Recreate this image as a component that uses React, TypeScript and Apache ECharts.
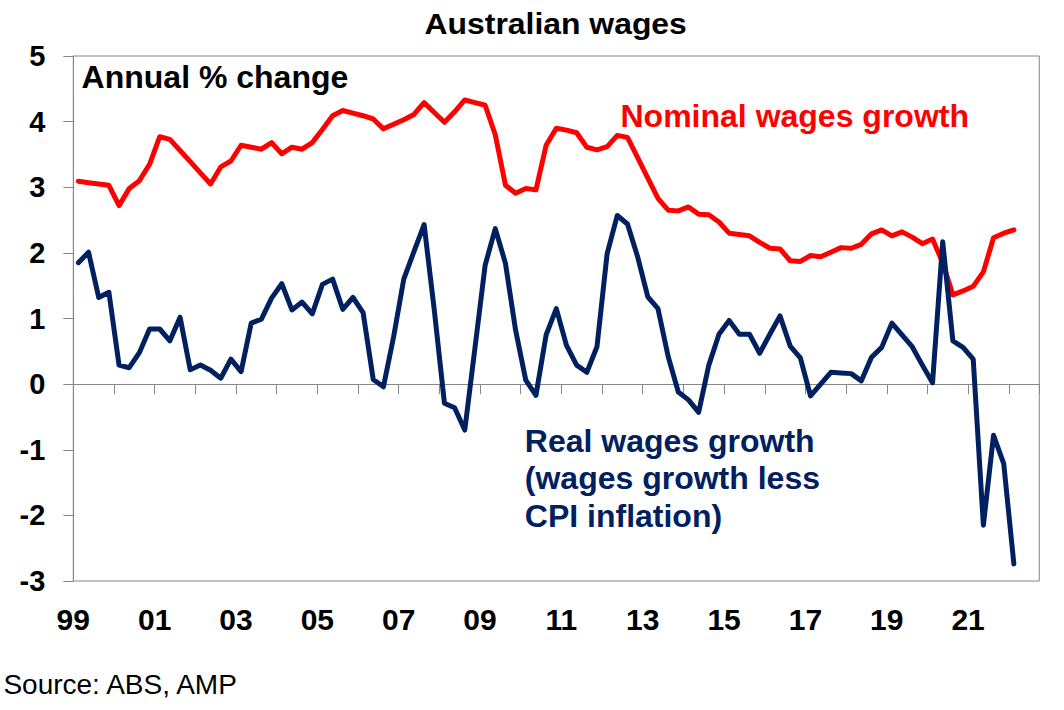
import React, { useEffect, useRef } from "react";
import * as echarts from "echarts";

// Quarterly data, Q1 1999 .. Q1 2022 (annual % change)
const startYear = 1999;
const nominalWages = [
  3.09, 3.07, 3.05, 3.03,
  2.72, 2.98, 3.10, 3.35,
  3.77, 3.73, 3.56, 3.39,
  3.22, 3.05, 3.31, 3.40,
  3.64, 3.61, 3.58, 3.68,
  3.51, 3.61, 3.58, 3.68,
  3.88, 4.09, 4.17, 4.13,
  4.09, 4.04, 3.89, 3.96,
  4.03, 4.11, 4.29, 4.14,
  3.99, 4.15, 4.33, 4.29,
  4.25, 3.80, 3.03, 2.91,
  2.98, 2.96, 3.64, 3.90,
  3.87, 3.83, 3.61, 3.57,
  3.62, 3.79, 3.76, 3.45,
  3.14, 2.83, 2.65, 2.64,
  2.70, 2.59, 2.58, 2.47,
  2.30, 2.28, 2.26, 2.16,
  2.07, 2.06, 1.88, 1.87,
  1.96, 1.94, 2.01, 2.08,
  2.07, 2.13, 2.29, 2.35,
  2.26, 2.32, 2.24, 2.14,
  2.21, 1.85, 1.36, 1.42,
  1.49, 1.71, 2.23, 2.30,
  2.35,
];
const realWages = [
  1.85, 2.01, 1.32, 1.40,
  0.29, 0.25, 0.48, 0.84,
  0.84, 0.66, 1.02, 0.22,
  0.29, 0.21, 0.09, 0.38,
  0.19, 0.93, 0.99, 1.31,
  1.53, 1.13, 1.25, 1.07,
  1.52, 1.60, 1.14, 1.32,
  1.09, 0.07, -0.04, 0.72,
  1.60, 2.02, 2.43, 1.13,
  -0.29, -0.36, -0.70, 0.55,
  1.81, 2.37, 1.84, 0.82,
  0.06, -0.17, 0.75, 1.15,
  0.59, 0.29, 0.18, 0.57,
  1.99, 2.57, 2.44, 1.94,
  1.33, 1.15, 0.42, -0.12,
  -0.24, -0.43, 0.29, 0.76,
  0.97, 0.76, 0.76, 0.47,
  0.76, 1.04, 0.58, 0.40,
  -0.18, 0.00, 0.18, 0.17,
  0.16, 0.05, 0.41, 0.56,
  0.93, 0.75, 0.57, 0.29,
  0.02, 2.17, 0.66, 0.56,
  0.38, -2.15, -0.78, -1.21,
  -2.74,
];
const yTicks = { min: -3, max: 5, interval: 1 };
const xRange = { min: 1999, max: 2022.75 };

const FONT = "Arial, 'Liberation Sans', Helvetica, sans-serif";
const RED = "#FF0000";
const NAVY = "#002060";
const AXIS_GREY = "#868686";

const toPoints = (vals: number[]) =>
  vals.map((v, i) => [startYear + i / 4 + 0.125, v]);

export default function App() {
  const ref = useRef<HTMLDivElement>(null);
  useEffect(() => {
    if (!ref.current) return;
    const chart = echarts.init(ref.current, undefined, { renderer: "svg" });
    const xLabel = (v: number) => {
      const r = Math.round(v);
      if (Math.abs(v - r) > 1e-6) return "";
      if ((r - startYear) % 2 !== 0) return "";
      return String(r % 100).padStart(2, "0");
    };
    chart.setOption({
      animation: false,
      backgroundColor: "#ffffff",
      grid: {
        left: 73.3,
        right: 24.7,
        top: 56,
        bottom: 129,
        show: true,
        borderColor: AXIS_GREY,
        borderWidth: 1,
        containLabel: false,
      },
      xAxis: [
        {
          type: "value",
          min: xRange.min,
          max: xRange.max,
          interval: 1,
          position: "bottom",
          axisLine: { show: true, onZero: true, lineStyle: { color: AXIS_GREY, width: 1 } },
          axisTick: { show: true, inside: false, length: 10, lineStyle: { color: AXIS_GREY, width: 1 } },
          axisLabel: { show: false },
          splitLine: { show: false },
        },
        {
          type: "value",
          min: xRange.min,
          max: xRange.max,
          interval: 1,
          position: "bottom",
          axisLine: { show: false, onZero: false },
          axisTick: { show: false },
          splitLine: { show: false },
          axisLabel: {
            show: true,
            margin: 23,
            fontSize: 30,
            fontWeight: "bold",
            fontFamily: FONT,
            color: "#000000",
            showMinLabel: true,
            showMaxLabel: true,
            formatter: xLabel,
          },
        },
      ],
      yAxis: {
        type: "value",
        min: yTicks.min,
        max: yTicks.max,
        interval: yTicks.interval,
        axisLine: { show: true, lineStyle: { color: AXIS_GREY, width: 1 } },
        axisTick: { show: true, inside: false, length: 10, lineStyle: { color: AXIS_GREY, width: 1 } },
        splitLine: { show: false },
        axisLabel: {
          margin: 28,
          fontSize: 29,
          fontWeight: "bold",
          fontFamily: FONT,
          color: "#000000",
        },
      },
      series: [
        {
          name: "Nominal wages growth",
          type: "line",
          xAxisIndex: 0,
          data: toPoints(nominalWages),
          showSymbol: false,
          symbol: "none",
          lineStyle: { color: RED, width: 5, join: "round", cap: "round" },
          z: 2,
        },
        {
          name: "Real wages growth",
          type: "line",
          xAxisIndex: 0,
          data: toPoints(realWages),
          showSymbol: false,
          symbol: "none",
          lineStyle: { color: NAVY, width: 5, join: "round", cap: "round" },
          z: 3,
        },
      ],
      graphic: [
        {
          type: "text",
          x: 555.7,
          y: 23.3,
          scaleX: 1.1,
          style: {
            text: "Australian wages",
            font: `bold 29px ${FONT}`,
            fill: "#000000",
            textAlign: "center",
            textVerticalAlign: "middle",
          },
        },
        {
          type: "text",
          x: 81.6,
          y: 77.2,
          style: {
            text: "Annual % change",
            font: `bold 32px ${FONT}`,
            fill: "#000000",
            textAlign: "left",
            textVerticalAlign: "middle",
          },
        },
        {
          type: "text",
          x: 620.5,
          y: 116.2,
          style: {
            text: "Nominal wages growth",
            font: `bold 32px ${FONT}`,
            fill: RED,
            textAlign: "left",
            textVerticalAlign: "middle",
          },
        },
        {
          type: "text",
          x: 524.8,
          y: 440.6,
          style: {
            text: "Real wages growth",
            font: `bold 32px ${FONT}`,
            fill: NAVY,
            textAlign: "left",
            textVerticalAlign: "middle",
          },
        },
        {
          type: "text",
          x: 524.8,
          y: 478.2,
          style: {
            text: "(wages growth less",
            font: `bold 32px ${FONT}`,
            fill: NAVY,
            textAlign: "left",
            textVerticalAlign: "middle",
          },
        },
        {
          type: "text",
          x: 524.8,
          y: 515.6,
          style: {
            text: "CPI inflation)",
            font: `bold 32px ${FONT}`,
            fill: NAVY,
            textAlign: "left",
            textVerticalAlign: "middle",
          },
        },
        {
          type: "text",
          x: 3.4,
          y: 684.6,
          style: {
            text: "Source: ABS, AMP",
            font: `28px ${FONT}`,
            fill: "#000000",
            textAlign: "left",
            textVerticalAlign: "middle",
          },
        },
      ],
    });
    return () => {
      chart.dispose();
    };
  }, []);
  return (
    <div
      ref={ref}
      style={{ position: "fixed", left: 0, top: 0, width: 1064, height: 710, background: "#ffffff" }}
    />
  );
}
